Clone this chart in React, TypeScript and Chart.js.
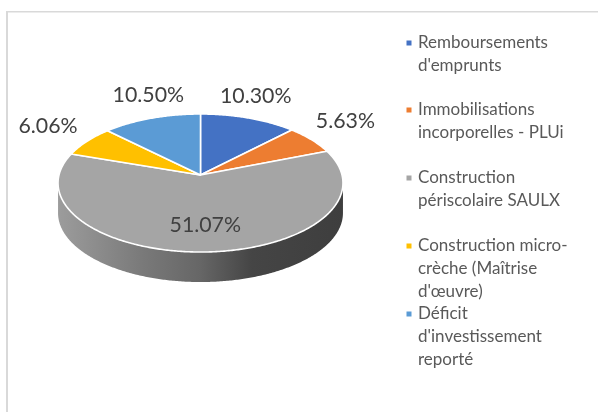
import React, { useEffect, useRef } from "react";
import { Chart, registerables } from "chart.js";

Chart.register(...registerables);

const categories: string[][] = [
  ["Remboursements", "d'emprunts"],
  ["Immobilisations", "incorporelles - PLUi"],
  ["Construction", "périscolaire SAULX"],
  ["Construction micro-", "crèche (Maîtrise", "d'œuvre)"],
  ["Déficit", "d'investissement", "reporté"],
];
const values = [10.3, 5.63, 51.07, 6.06, 10.5];
const colors = ["#4472C4", "#ED7D31", "#A5A5A5", "#FFC000", "#5B9BD5"];

// Perspective projection of the pie disc
const CX = 200.5, CY = 175, R = 141.5, K = 68.1, P = 0.116, DEPTH = 30;
const project = (t: number) => {
  const w = 1 + P * Math.cos(t);
  return [CX + (R * Math.sin(t)) / w, CY - (K * Math.cos(t)) / w];
};
const labelOffsets = [[7, -22], [34, -19], [1, -27], [-39, -15], [-3, -23]];
const legendRows = [43, 110, 178, 246, 314];

const trace = (ctx: CanvasRenderingContext2D, a: number, b: number, dy = 0) => {
  const n = Math.max(2, Math.ceil(Math.abs(b - a) / 0.01));
  for (let i = 0; i <= n; i++) {
    const [x, y] = project(a + ((b - a) * i) / n);
    ctx.lineTo(x, y + dy);
  }
};

const pie3d = {
  id: "pie3d",
  beforeDatasetDraw(chart: any) {
    const ctx: CanvasRenderingContext2D = chart.ctx;
    const arcs = chart.getDatasetMeta(0).data;
    ctx.save();
    // side wall
    const tA = Math.acos(-P), tB = 2 * Math.PI - tA;
    const g = ctx.createLinearGradient(58, 0, 343, 0);
    g.addColorStop(0, "#9c9c9c");
    g.addColorStop(0.3, "#797979");
    g.addColorStop(0.5, "#666666");
    g.addColorStop(0.68, "#454545");
    g.addColorStop(1, "#3e3e3e");
    ctx.beginPath();
    trace(ctx, tA, tB, 0);
    trace(ctx, tB, tA, DEPTH);
    ctx.closePath();
    ctx.fillStyle = g;
    ctx.fill();
    // top face
    arcs.forEach((arc: any) => {
      const a = arc.startAngle + Math.PI / 2, b = arc.endAngle + Math.PI / 2;
      ctx.beginPath();
      ctx.moveTo(CX, CY);
      trace(ctx, a, b);
      ctx.closePath();
      ctx.fillStyle = arc.options.backgroundColor;
      ctx.fill();
      ctx.strokeStyle = "#ffffff";
      ctx.lineWidth = 1.6;
      ctx.lineJoin = "round";
      ctx.stroke();
    });
    ctx.restore();
    return false;
  },
  afterDraw(chart: any) {
    const ctx: CanvasRenderingContext2D = chart.ctx;
    const arcs = chart.getDatasetMeta(0).data;
    ctx.save();
    // frame
    ctx.fillStyle = "#d9d9d9";
    ctx.fillRect(6, 11, 2, 401);
    ctx.fillRect(6, 11, 592, 1.5);
    // percentage labels
    ctx.font = "21.3px Lato";
    ctx.fillStyle = "#404040";
    ctx.textAlign = "center";
    ctx.textBaseline = "middle";
    arcs.forEach((arc: any, i: number) => {
      const [x, y] = project((arc.startAngle + arc.endAngle) / 2 + Math.PI / 2);
      ctx.fillText(values[i].toFixed(2) + "%", x + labelOffsets[i][0], y + labelOffsets[i][1]);
    });
    // legend
    ctx.font = "17px Lato";
    ctx.textAlign = "left";
    chart.data.labels.forEach((lines: string[], i: number) => {
      ctx.fillStyle = colors[i];
      ctx.fillRect(406.5, legendRows[i] - 2.5, 5, 5);
      ctx.fillStyle = "#595959";
      lines.forEach((t, j) => ctx.fillText(t, 418, legendRows[i] + j * 22.7));
    });
    ctx.restore();
  },
};

export default function App() {
  const ref = useRef<HTMLCanvasElement>(null);
  useEffect(() => {
    const chart = new Chart(ref.current!, {
      type: "pie",
      data: {
        labels: categories as any,
        datasets: [{ data: values, backgroundColor: colors, borderColor: "#ffffff" }],
      },
      options: {
        animation: false,
        responsive: false,
        plugins: { legend: { display: false }, tooltip: { enabled: false } },
      },
      plugins: [pie3d],
    });
    return () => chart.destroy();
  }, []);
  return (
    <div style={{ position: "absolute", left: 0, top: 0, background: "#fff" }}>
      <canvas ref={ref} width={598} height={412} style={{ display: "block" }} />
    </div>
  );
}
